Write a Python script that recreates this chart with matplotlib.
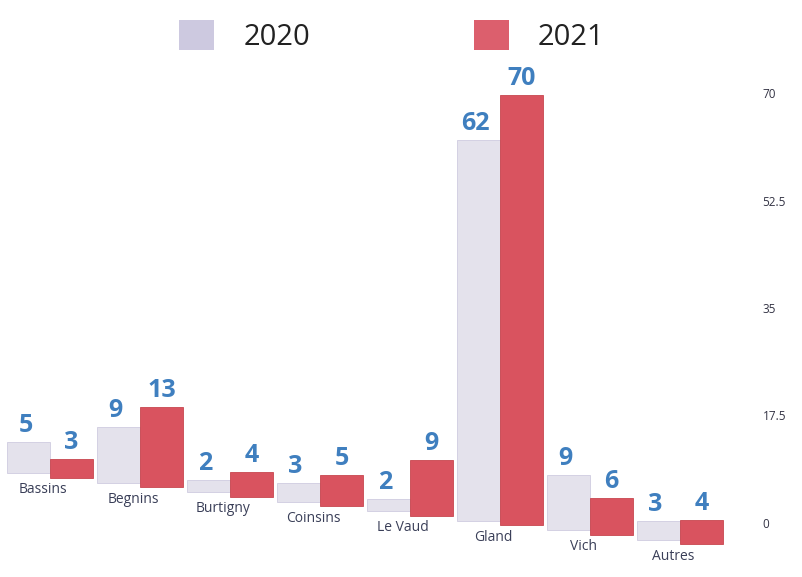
import numpy as np
import matplotlib
matplotlib.use("Agg")
import matplotlib.pyplot as plt
from matplotlib.transforms import Affine2D
from matplotlib.patches import Patch
from matplotlib.ticker import FixedLocator, FixedFormatter

# ---- data ----
categories = ["Bassins", "Begnins", "Burtigny", "Coinsins", "Le Vaud", "Gland", "Vich", "Autres"]
values_2020 = [5, 9, 2, 3, 2, 62, 9, 3]
values_2021 = [3, 13, 4, 5, 9, 70, 6, 4]
series_names = ["2020", "2021"]
y_ticks = [0, 17.5, 35, 52.5, 70]
y_tick_labels = ["0", "17.5", "35", "52.5", "70"]

# ---- style ----
color_2020 = "#e4e2ec"
color_2020_edge = "#cfcce0"
color_2021 = "#d9535f"
color_2021_edge = "#c8464f"
label_blue = "#3f7fbf"
cat_color = "#3a3f58"
plt.rcParams["font.family"] = ["Open Sans", "DejaVu Sans"]

W, H = 803, 577
fig = plt.figure(figsize=(W / 100, H / 100), dpi=100)
ax = fig.add_axes([5 / W, 54 / H, 720 / W, 430 / H])
ax.set_xlim(-0.5, len(categories) - 0.5)
ax.set_ylim(0, 70)

# perspective-like stepping: baseline descends towards the right
pivot_px = ax.transData.transform((5, 0))[0]
slope = 0.106


def stepped(xd):
    px = ax.transData.transform((xd, 0))[0]
    return ax.transData + Affine2D().translate(0, -slope * (px - pivot_px))


x = np.arange(len(categories))
bw = 0.48
off = 0.24
bars20 = ax.bar(x - off, values_2020, width=bw, color=color_2020, edgecolor=color_2020_edge,
                linewidth=0.6, clip_on=False, zorder=2)
bars21 = ax.bar(x + off, values_2021, width=bw, color=color_2021, edgecolor=color_2021_edge,
                linewidth=0.6, clip_on=False, zorder=3)
for bars, xs in ((bars20, x - off), (bars21, x + off)):
    for rect, xi in zip(bars, xs):
        rect.set_transform(stepped(xi))

for xi, v in zip(x - off, values_2020):
    ax.annotate(str(v), xy=(xi, v), xycoords=stepped(xi), xytext=(-2, 3), textcoords="offset points",
                ha="center", va="bottom", fontsize=18, fontweight="bold", color=label_blue,
                zorder=5, annotation_clip=False)
for xi, v in zip(x + off, values_2021):
    ax.annotate(str(v), xy=(xi, v), xycoords=stepped(xi), xytext=(0, 3), textcoords="offset points",
                ha="center", va="bottom", fontsize=18, fontweight="bold", color=label_blue,
                zorder=5, annotation_clip=False)

for xi, name in zip(x, categories):
    ax.annotate(name, xy=(xi, 0), xycoords=stepped(xi), xytext=(-5, -5), textcoords="offset points",
                ha="center", va="top", fontsize=10, color=cat_color, annotation_clip=False)

# right-hand value axis
ax.yaxis.tick_right()
ax.yaxis.set_major_locator(FixedLocator(y_ticks))
ax.yaxis.set_major_formatter(FixedFormatter(y_tick_labels))
ax.tick_params(axis="y", length=0, pad=27, labelsize=8.5, labelcolor="#333344")
ax.set_xticks([])
for s in ax.spines.values():
    s.set_visible(False)
ax.patch.set_alpha(0)

handles = [Patch(facecolor="#cdc9e0", edgecolor="none"),
           Patch(facecolor="#dc5f6d", edgecolor="none")]
fig.legend(handles, series_names, loc="upper center", bbox_to_anchor=(0.488, 1.01), ncol=2,
           frameon=False, fontsize=21, handlelength=1.2, handleheight=1.2,
           handletextpad=1.0, columnspacing=5.6, labelcolor="#222222")

fig.savefig("out.png", dpi=100)
